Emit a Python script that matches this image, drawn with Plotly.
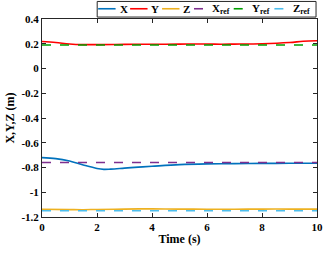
import plotly.graph_objects as go

# ---- data ----
t_x = [0, 0.5, 1, 1.5, 2, 2.25, 2.5, 3, 3.5, 4, 5, 6, 7, 8, 9, 10]
x_val = [-0.72, -0.728, -0.748, -0.78, -0.808, -0.815, -0.813, -0.805, -0.797, -0.79,
         -0.777, -0.771, -0.769, -0.767, -0.766, -0.766]
t_y = [0, 0.5, 1, 1.5, 2, 3, 4, 5, 6, 6.5, 7, 8, 9, 9.5, 10]
y_val = [0.218, 0.21, 0.198, 0.193, 0.193, 0.195, 0.196, 0.197, 0.198, 0.196, 0.197,
         0.2, 0.21, 0.22, 0.224]
t_z = [0, 1, 1.5, 2, 3, 4, 5, 6, 7, 8, 9, 10]
z_val = [-1.137, -1.14, -1.141, -1.139, -1.136, -1.134, -1.136, -1.137, -1.137, -1.136,
         -1.136, -1.136]
t_ref = [0, 10]
x_ref = [-0.76, -0.76]
y_ref = [0.19, 0.19]
z_ref = [-1.15, -1.15]

y_ticks = [0.4, 0.2, 0, -0.2, -0.4, -0.6, -0.8, -1, -1.2]
y_ticktext = ["0.4", "0.2", "0", "-0.2", "-0.4", "-0.6", "-0.8", "-1", "-1.2"]
x_ticks = [0, 2, 4, 6, 8, 10]

names = ["X", "Y", "Z", "X<sub>ref</sub>", "Y<sub>ref</sub>", "Z<sub>ref</sub>"]
colors = ["#0072BD", "#FF0000", "#EDB120", "#7E2F8E", "#009E00", "#4DBEEE"]
dashes = ["solid", "solid", "solid", "dash", "dash", "dash"]
series = [(t_x, x_val), (t_y, y_val), (t_z, z_val), (t_ref, x_ref), (t_ref, y_ref), (t_ref, z_ref)]

FONT = "Liberation Serif"
fig = go.Figure()
for (tt, vv), nm, c, d in zip(series, names, colors, dashes):
    fig.add_trace(go.Scatter(x=tt, y=vv, mode="lines", name=nm,
                             line=dict(color=c, width=1.6, dash=d, shape="spline"),
                             showlegend=False))

# ---- manual legend (box across the top) ----
W, H = 332, 253
L, R, T, B = 39, 9, 19, 31
pw, ph = W - L - R, H - T - B
def px(x): return (x - L) / pw
def py(y): return (H - B - y) / ph

fig.add_shape(type="rect", xref="paper", yref="paper",
              x0=px(96), x1=px(322), y0=py(17), y1=py(1),
              line=dict(color="#262626", width=1), fillcolor="white", layer="above")
entry_x = [97, 130, 163, 196, 237, 279]
seg_len = [18, 18, 18, 15, 15, 15]
for ex, sl, nm, c, d in zip(entry_x, seg_len, names, colors, dashes):
    fig.add_shape(type="line", xref="paper", yref="paper",
                  x0=px(ex), x1=px(ex + sl), y0=py(8.5), y1=py(8.5),
                  line=dict(color=c, width=1.6, dash="dash" if d == "dash" else "solid"),
                  layer="above")
    fig.add_annotation(xref="paper", yref="paper", x=px(ex + sl + 2), y=py(8.5),
                       text="<b>" + nm + "</b>", showarrow=False, xanchor="left",
                       yanchor="middle", font=dict(family=FONT, size=11, color="black"))

axis_common = dict(showline=True, linecolor="#262626", linewidth=1, mirror="ticks",
                   ticks="inside", ticklen=4, tickcolor="#262626", showgrid=False,
                   zeroline=False, tickfont=dict(family=FONT, size=11, color="black"))
fig.update_xaxes(range=[0, 10], tickvals=x_ticks,
                 ticktext=["<b>%d</b>" % v for v in x_ticks],
                 title=dict(text="<b>Time (s)</b>", font=dict(family=FONT, size=12, color="black"),
                            standoff=2),
                 **axis_common)
fig.update_yaxes(range=[-1.2, 0.4], tickvals=y_ticks,
                 ticktext=["<b>%s</b>" % s for s in y_ticktext],
                 title=dict(text="<b>X,Y,Z (m)</b>", font=dict(family=FONT, size=12, color="black"),
                            standoff=4),
                 **axis_common)
fig.update_layout(width=W, height=H, margin=dict(l=L, r=R, t=T, b=B),
                  plot_bgcolor="white", paper_bgcolor="white", showlegend=False)
fig.write_html("out.html", config={"displayModeBar": False},
               post_script="document.body.style.margin='0';document.body.style.overflow='hidden';")
